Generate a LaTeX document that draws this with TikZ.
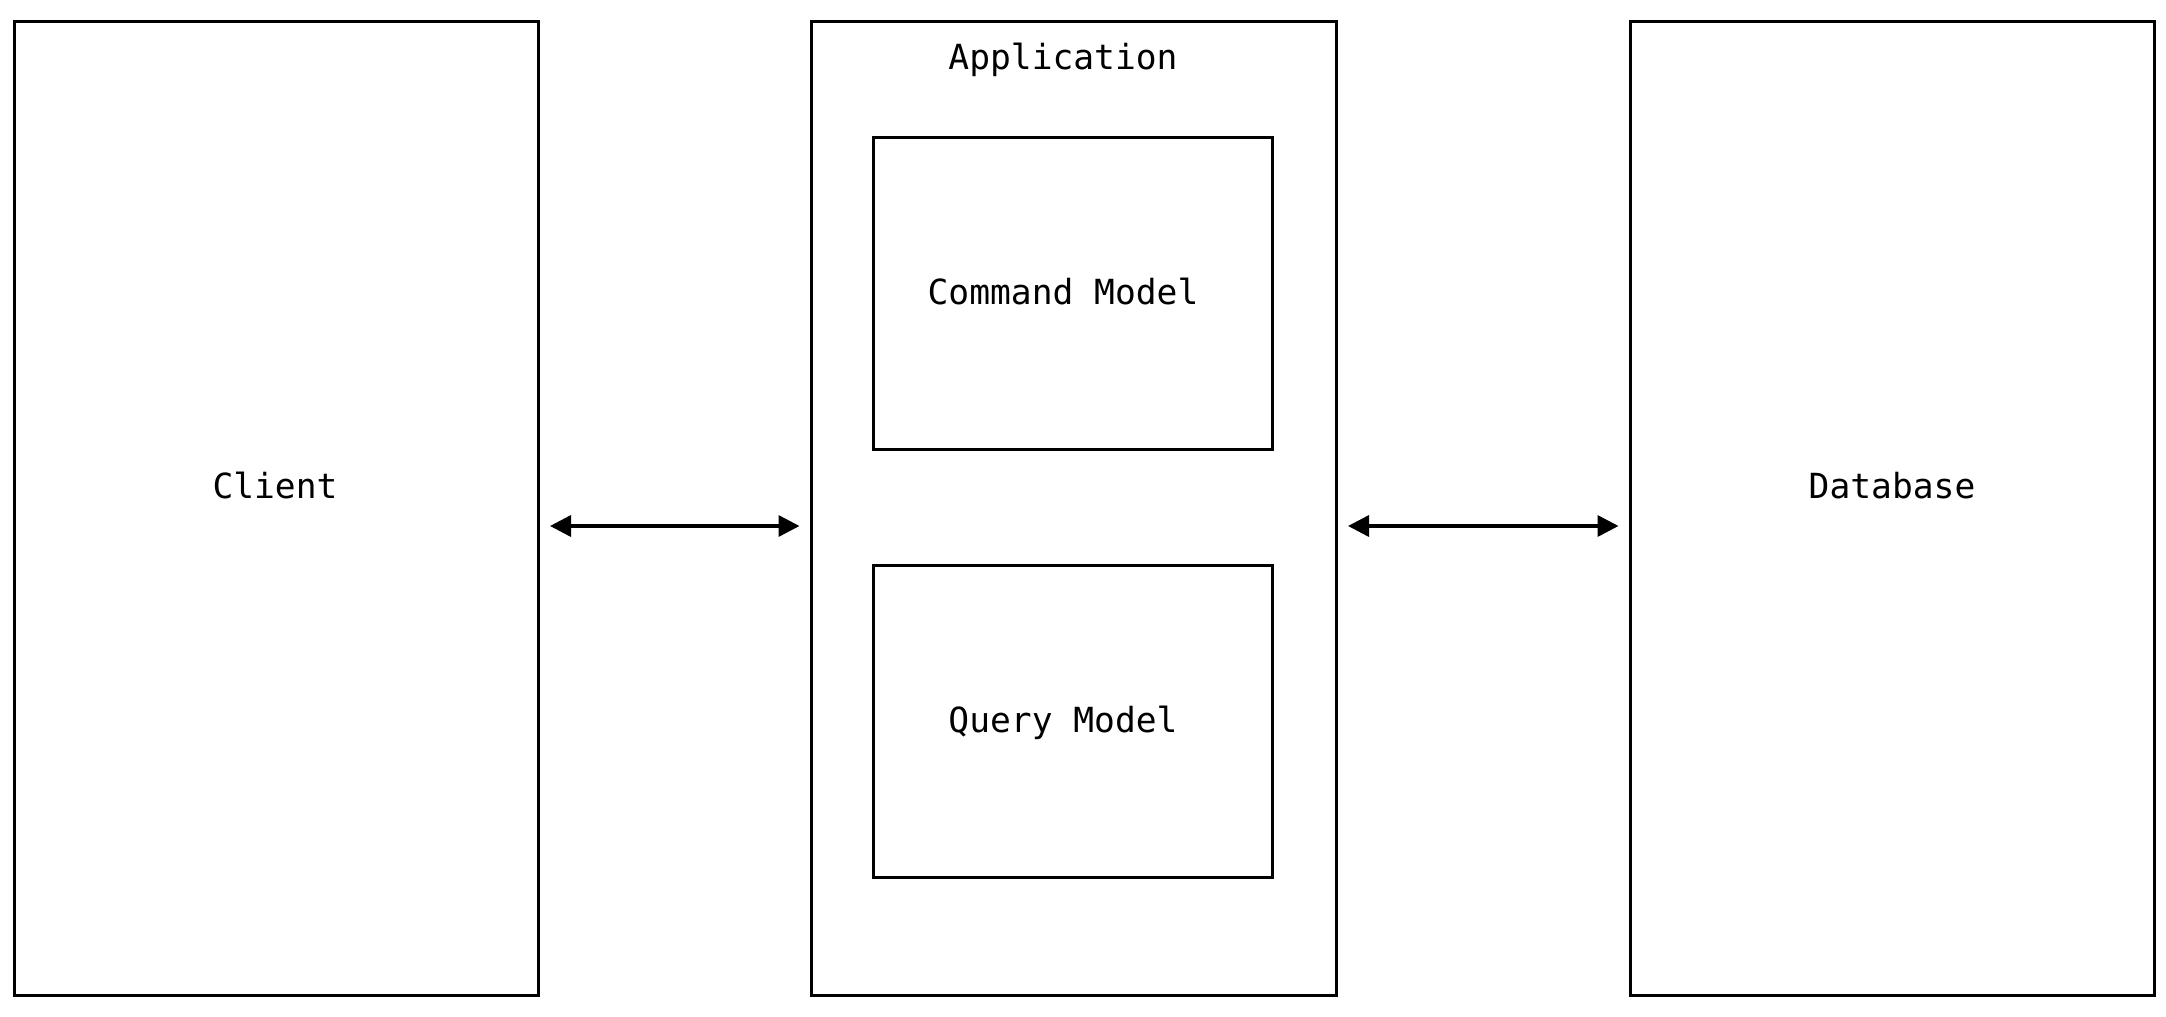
\documentclass[tikz,border=0pt]{standalone}
\usepackage{fontspec}
\setmonofont{DejaVu Sans Mono}
\usetikzlibrary{arrows.meta}
\begin{document}
\begin{tikzpicture}[x=1pt,y=-1pt,
  box/.style={draw=black,line width=3.5pt,rectangle,inner sep=0pt,anchor=north west},
  lbl/.style={font=\ttfamily\fontsize{34.6}{40}\selectfont,inner sep=0pt},
  conn/.style={line width=3.5pt,{Triangle[length=21pt,width=21pt]}-{Triangle[length=21pt,width=21pt]},shorten <=10pt,shorten >=10pt}]
\useasboundingbox (0,0) rectangle (2166,1017);
\node[box,minimum width=524pt,minimum height=974pt] (client) at (12.5,19.5) {};
\node[box,minimum width=525pt,minimum height=974pt] (app) at (809.5,19.5) {};
\node[box,minimum width=524pt,minimum height=974pt] (db) at (1628.5,19.5) {};
\node[box,minimum width=399pt,minimum height=312pt] (cmd) at (871.5,135.5) {};
\node[box,minimum width=399pt,minimum height=312pt] (qry) at (871.5,563.5) {};
\node[lbl] (tclient) at (275,486) {Client};
\node[lbl] (tapp) at (1063,59.5) {Application};
\node[lbl] (tcmd) at (1063,292) {Command Model};
\node[lbl] (tqry) at (1063,723) {Query Model};
\node[lbl] (tdb) at (1892,486) {Database};
\draw[conn] (client.east |- 0,526) -- (app.west |- 0,526);
\draw[conn] (app.east |- 0,526) -- (db.west |- 0,526);
\end{tikzpicture}
\end{document}
